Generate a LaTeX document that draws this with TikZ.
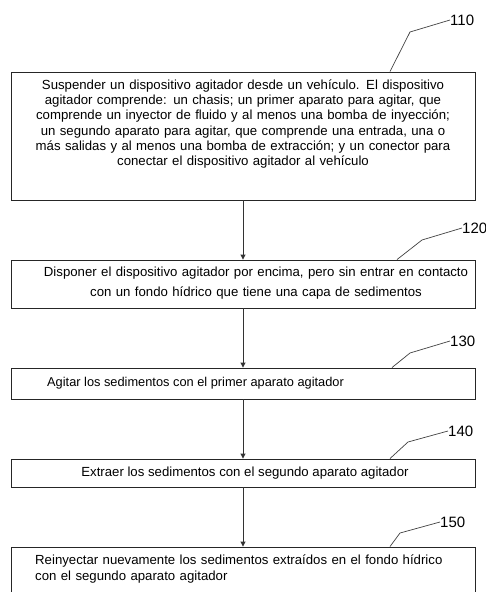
\documentclass[tikz,border=0pt]{standalone}
\usepackage{fontspec}
\setmainfont{Liberation Sans}
\usepackage{tikz}
\usetikzlibrary{arrows.meta}

\tikzset{
    stepbox/.style={draw=black!85, line width=0.9pt, minimum width=464pt, inner sep=0pt},
    steptext/.style={inner sep=0pt, font=\fontsize{13.2}{15.2}\selectfont},
    reflabel/.style={anchor=west, inner sep=0pt, font=\fontsize{15}{15}\selectfont},
    leader/.style={draw=black!75, line width=0.7pt},
    flow/.style={draw=black!80, line width=0.9pt, -{Triangle[length=5pt,width=5pt]}}
}

\begin{document}
\begin{tikzpicture}[x=1pt, y=-1pt]

        \useasboundingbox (0,0) rectangle (486,592);

        % boxes
        \node[stepbox, minimum height=128pt] (s1) at (243,136) {};

        \node[stepbox, minimum height=48pt] (s2) at (243,284) {};

        \node[stepbox, minimum height=31pt] (s3) at (243,383.5) {};

        \node[stepbox, minimum height=28pt] (s4) at (243,473) {};

        \node[stepbox, minimum height=60pt] (s5) at (243,577) {};

        % texts
        \node[steptext, text width=460pt, align=center] (t1) at (243,124) {Suspender un dispositivo agitador desde un vehículo. El dispositivo\\ agitador comprende: un chasis; un primer aparato para agitar, que\\ comprende un inyector de fluido y al menos una bomba de inyección;\\ un segundo aparato para agitar, que comprende una entrada, una o\\ más salidas y al menos una bomba de extracción; y un conector para\\ conectar el dispositivo agitador al vehículo};

        \node[steptext, text width=460pt, align=center, font=\fontsize{13.2}{20}\selectfont] (t2) at (256,283) {Disponer el dispositivo agitador por encima, pero sin entrar en contacto\\ con un fondo hídrico que tiene una capa de sedimentos};

        \node[steptext, anchor=west, font=\fontsize{12.8}{15}\selectfont] (t3) at (47,383) {Agitar los sedimentos con el primer aparato agitador};

        \node[steptext] (t4) at (245,473) {Extraer los sedimentos con el segundo aparato agitador};

        \node[steptext, anchor=west, text width=440pt, align=left, font=\fontsize{13.2}{16}\selectfont] (t5) at (35,569) {Reinyectar nuevamente los sedimentos extraídos en el fondo hídrico\\ con el segundo aparato agitador};

        % reference numerals
        \node[reflabel] (n110) at (450,20) {110};

        \node[reflabel] (n120) at (462,228) {120};

        \node[reflabel] (n130) at (450,341) {130};

        \node[reflabel] (n140) at (448,431) {140};

        \node[reflabel] (n150) at (440,522) {150};

        \draw[leader] (s1.north -| 390,0) -- (410,32) -- (n110.west);

        \draw[leader] (s2.north -| 397,0) -- (422,240) -- (n120.west);

        \draw[leader] (s3.north -| 392,0) -- (410,353) -- (n130.west);

        \draw[leader] (s4.north -| 390,0) -- (408,442) -- (n140.west);

        \draw[leader] (s5.north -| 390,0) -- (400,533) -- (n150.west);

        % arrows
        \draw[flow] (s1) -- (s2);

        \draw[flow] (s2) -- (s3);

        \draw[flow] (s3) -- (s4);

        \draw[flow] (s4) -- (s5);
    \end{tikzpicture}
\end{document}
